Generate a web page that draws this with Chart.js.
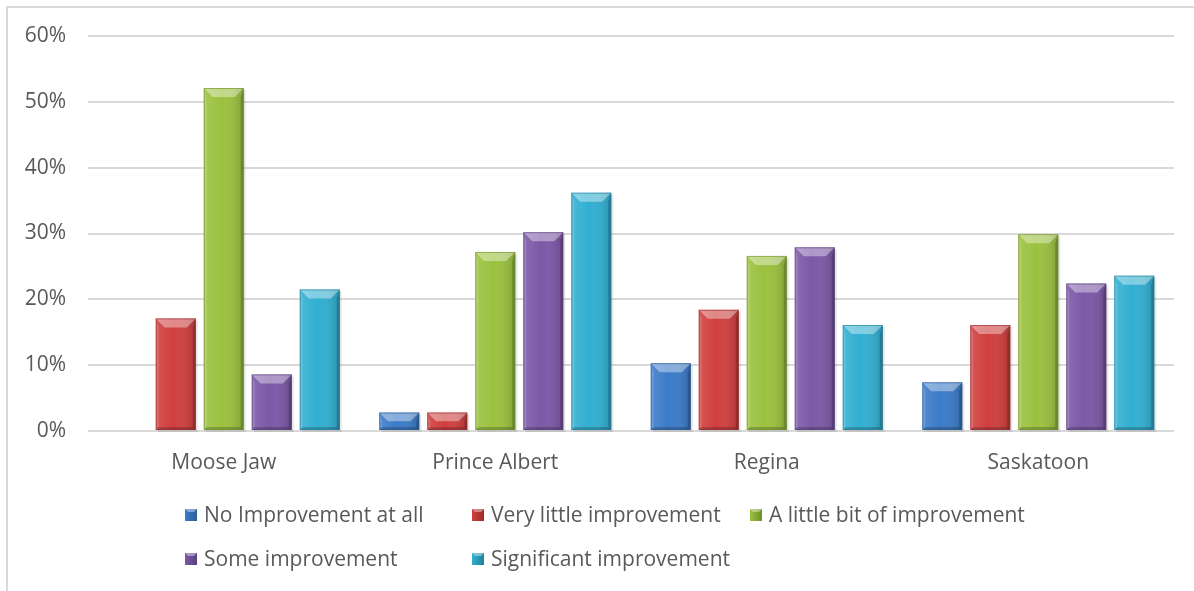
<!DOCTYPE html>
<html>
<head>
<meta charset="utf-8">
<script src="https://cdn.jsdelivr.net/npm/chart.js@4.4.1/dist/chart.umd.min.js"></script>
<style>
  html, body { margin: 0; padding: 0; background: #fff; }
  #wrap { width: 1194px; height: 591px; position: relative; }
</style>
</head>
<body>
<div id="wrap"><canvas id="myChartBar"></canvas></div>
<script>
// data (fractions, shown as %)
var cities = ['Moose Jaw', 'Prince Albert', 'Regina', 'Saskatoon'];
var seriesNames = ['No Improvement at all', 'Very little improvement', 'A little bit of improvement', 'Some improvement', 'Significant improvement'];
var noImprovement = [0, 0.028, 0.103, 0.074];
var veryLittle = [0.171, 0.028, 0.184, 0.161];
var littleBit = [0.521, 0.272, 0.266, 0.299];
var someImprovement = [0.086, 0.302, 0.279, 0.224];
var significant = [0.215, 0.362, 0.161, 0.236];
var yTicks = [0, 0.1, 0.2, 0.3, 0.4, 0.5, 0.6];

var colors = ['#3b7bc8', '#cf3f3e', '#9bc13f', '#7c58a7', '#31afd2'];
var darks = ['#2a5c99', '#9c2c2b', '#6f8f2a', '#59407d', '#217f9a'];
var fontFam = '"Open Sans", "Noto Sans", sans-serif';
var textColor = '#595959';

// frame lines (top + left) like the original chart box
var framePlugin = {
  id: 'frame',
  beforeDraw: function (chart) {
    var c = chart.ctx;
    c.save();
    c.strokeStyle = '#d9d9d9';
    c.lineWidth = 2;
    c.beginPath();
    c.moveTo(7, 591);
    c.lineTo(7, 7);
    c.lineTo(1194, 7);
    c.stroke();
    c.restore();
  }
};

// bevel look on the bars, using the bar elements' own geometry
var bevelPlugin = {
  id: 'bevel',
  afterDatasetsDraw: function (chart) {
    var c = chart.ctx;
    chart.data.datasets.forEach(function (ds, i) {
      var meta = chart.getDatasetMeta(i);
      meta.data.forEach(function (bar) {
        var p = bar.getProps(['x', 'y', 'base', 'width'], true);
        var l = p.x - p.width / 2, r = p.x + p.width / 2, t = p.y, b = p.base;
        if (b - t < 1) return;
        var bv = Math.min(9, (b - t) / 2);
        c.save();
        // horizontal shading
        var g = c.createLinearGradient(l, 0, r, 0);
        g.addColorStop(0, 'rgba(255,255,255,0.12)');
        g.addColorStop(0.45, 'rgba(255,255,255,0.0)');
        g.addColorStop(1, 'rgba(0,0,0,0.18)');
        c.fillStyle = g;
        c.fillRect(l, t, r - l, b - t);
        // top bevel
        c.fillStyle = 'rgba(255,255,255,0.38)';
        c.beginPath();
        c.moveTo(l, t); c.lineTo(r, t); c.lineTo(r - bv, t + bv); c.lineTo(l + bv, t + bv);
        c.closePath(); c.fill();
        // left edge light
        c.fillStyle = 'rgba(255,255,255,0.15)';
        c.beginPath();
        c.moveTo(l, t); c.lineTo(l + 3, t + bv); c.lineTo(l + 3, b - 3); c.lineTo(l, b);
        c.closePath(); c.fill();
        // right edge dark
        c.fillStyle = 'rgba(0,0,0,0.18)';
        c.beginPath();
        c.moveTo(r, t); c.lineTo(r - 3, t + bv); c.lineTo(r - 3, b - 3); c.lineTo(r, b);
        c.closePath(); c.fill();
        // bottom edge dark
        c.fillStyle = 'rgba(0,0,0,0.2)';
        c.beginPath();
        c.moveTo(l, b); c.lineTo(l + 3, b - 3); c.lineTo(r - 3, b - 3); c.lineTo(r, b);
        c.closePath(); c.fill();
        // outline
        c.strokeStyle = darks[i];
        c.globalAlpha = 0.6;
        c.lineWidth = 1;
        c.strokeRect(l + 0.5, t + 0.5, r - l - 1, b - t - 1);
        c.restore();
      });
    });
  },
  beforeDatasetsDraw: function (chart) {
    var c = chart.ctx;
    chart.data.datasets.forEach(function (ds, i) {
      chart.getDatasetMeta(i).data.forEach(function (bar) {
        var p = bar.getProps(['x', 'y', 'base', 'width'], true);
        if (p.base - p.y < 1) return;
        c.save();
        c.fillStyle = 'rgba(0,0,0,0.10)';
        c.fillRect(p.x - p.width / 2 + 2, p.y + 2, p.width, p.base - p.y);
        c.restore();
      });
    });
  }
};

// legend laid out as a grid (3 columns, 2 rows) like the original
var gridLegend = {
  id: 'gridLegend',
  afterDraw: function (chart) {
    var c = chart.ctx;
    var colX = [185, 472, 750];
    var rowY = [515, 559];
    c.save();
    c.font = '21px ' + fontFam;
    c.textBaseline = 'middle';
    chart.data.datasets.forEach(function (ds, i) {
      var x = colX[i % 3], y = rowY[Math.floor(i / 3)];
      var gb = c.createLinearGradient(x, 0, x + 12, 0);
      gb.addColorStop(0, colors[i]);
      gb.addColorStop(1, darks[i]);
      c.fillStyle = gb;
      c.fillRect(x, y - 6, 12, 12);
      c.fillStyle = 'rgba(255,255,255,0.4)';
      c.beginPath();
      c.moveTo(x, y - 6); c.lineTo(x + 12, y - 6); c.lineTo(x + 9, y - 3); c.lineTo(x + 3, y - 3);
      c.closePath(); c.fill();
      c.fillStyle = textColor;
      c.fillText(ds.label, x + 19, y + 1);
    });
    c.restore();
  }
};

var seriesData = [noImprovement, veryLittle, littleBit, someImprovement, significant];
var datasets = seriesData.map(function (arr, i) {
  return {
    label: seriesNames[i],
    data: arr,
    backgroundColor: colors[i],
    borderWidth: 0,
    barPercentage: 0.833,
    categoryPercentage: 0.884
  };
});

var ctx1 = document.getElementById('myChartBar').getContext('2d');
var myChartBar = new Chart(ctx1, {
  type: 'bar',
  data: { labels: cities, datasets: datasets },
  plugins: [framePlugin, bevelPlugin, gridLegend],
  options: {
    responsive: true,
    maintainAspectRatio: false,
    animation: false,
    layout: { padding: { top: 36, right: 20, bottom: 104, left: 0 } },
    plugins: { legend: { display: false }, tooltip: { enabled: false } },
    scales: {
      x: {
        grid: { display: false, drawTicks: false },
        border: { display: false },
        ticks: { color: textColor, font: { family: fontFam, size: 21 }, padding: 19 },
        afterFit: function (s) { s.height = 56; }
      },
      y: {
        min: 0,
        max: 0.6,
        afterBuildTicks: function (s) { s.ticks = yTicks.map(function (v) { return { value: v }; }); },
        grid: { color: '#d9d9d9', lineWidth: 2, drawTicks: false },
        border: { display: false },
        ticks: {
          color: textColor,
          font: { family: fontFam, size: 21 },
          padding: 22,
          callback: function (v) { return Math.round(v * 100) + '%'; }
        },
        afterFit: function (s) { s.width = 88; }
      }
    }
  }
});
</script>
</body>
</html>
